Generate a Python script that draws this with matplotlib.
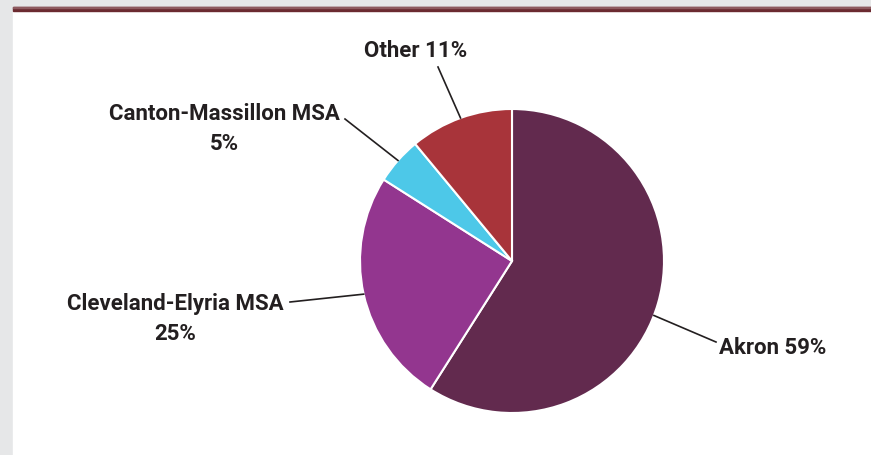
import numpy as np
import matplotlib
matplotlib.use("Agg")
import matplotlib.pyplot as plt
from matplotlib.patches import Rectangle

# share of residents by area
areas = ["Akron", "Cleveland-Elyria MSA", "Canton-Massillon MSA", "Other"]
shares = [59, 25, 5, 11]
colors = ["#622a4e", "#93368f", "#4dc8e8", "#a8343a"]
label_lines = [["Akron 59%"], ["Cleveland-Elyria MSA", "25%"],
               ["Canton-Massillon MSA", "5%"], ["Other 11%"]]

W, H = 871, 456
cx, cy, r = 512, 262, 152

plt.rcParams["font.family"] = ["Roboto", "DejaVu Sans"]
txt_color = "#231f20"

fig = plt.figure(figsize=(W / 100, H / 100), dpi=100, facecolor="#e6e7e8")

# white panel with the dark red rule on top
fig.patches.append(Rectangle((13 / W, 0), 1 - 13 / W, (H - 11) / H,
                             transform=fig.transFigure, color="white", zorder=-2))
fig.patches.append(Rectangle((13 / W, (H - 11.5) / H), 1 - 13 / W, 4 / H,
                             transform=fig.transFigure, color="#6b2a30", zorder=-2))
fig.patches.append(Rectangle((13 / W, (H - 8.5) / H), 1 - 13 / W, 1 / H,
                             transform=fig.transFigure, color="#8e5a5f", zorder=-1))

ax = fig.add_axes([(cx - r) / W, (H - cy - r) / H, 2 * r / W, 2 * r / H])
wedges, _ = ax.pie(shares, colors=colors, startangle=90, counterclock=False,
                   radius=1, wedgeprops=dict(edgecolor="white", linewidth=1.5))
ax.set_xlim(-1, 1)
ax.set_ylim(-1, 1)
ax.set_aspect("equal")

ov = fig.add_axes([0, 0, 1, 1], facecolor="none")
ov.set_xlim(0, W)
ov.set_ylim(H, 0)
ov.axis("off")

# where each leader line meets the pie (degrees) and where the label sits
anchors = [-21, None, None, None]
line_ends = [(716, 343), (290, 303), (345, 120), (438, 68)]
text_pos = [(719, 348, "left"), (175, 304, "center"),
            (224, 114, "center"), (416, 51, "center")]

for w, anc, end, (tx, ty, ha), lines in zip(wedges, anchors, line_ends,
                                             text_pos, label_lines):
    th = np.deg2rad(anc if anc is not None else (w.theta1 + w.theta2) / 2)
    px, py = cx + r * np.cos(th), cy - r * np.sin(th)
    ov.plot([px, end[0]], [py, end[1]], color=txt_color, lw=1.2)
    for i, s in enumerate(lines):
        ov.text(tx, ty + i * 30, s, ha=ha, va="center", fontsize=16,
                fontweight="bold", color=txt_color)

fig.savefig("out.png", dpi=100, facecolor=fig.get_facecolor())
